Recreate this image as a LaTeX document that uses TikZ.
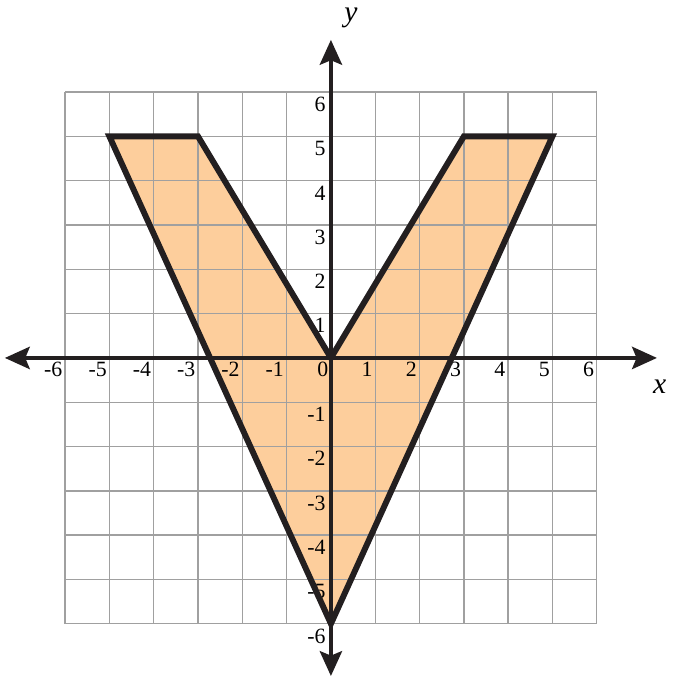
\documentclass[tikz,border=0pt]{standalone}
\usepackage{fontspec}
\setmainfont{Liberation Serif}
\usetikzlibrary{arrows.meta}
\definecolor{regionfill}{RGB}{253,206,156}
\definecolor{gridgray}{RGB}{160,160,160}
\definecolor{inkblack}{RGB}{35,31,32}
\newcommand{\ticklbl}[1]{\fontsize{14}{16}\selectfont #1}

\begin{document}
\begin{tikzpicture}[line width=0.5pt]
  \useasboundingbox (-7.47,-7.27) rectangle (7.81,8.08);
  \fill[regionfill] (-5,5) -- (-3,5) -- (0,0) -- (3,5) -- (5,5) -- (0,-6) -- cycle;
  \foreach \x in {-6,...,6} { \draw[gridgray, line width=0.9pt] (\x,-6) -- (\x,6); }
  \foreach \y in {-6,...,6} { \draw[gridgray, line width=0.9pt] (-6,\y) -- (6,\y); }
  \coordinate (xl) at (-7.36,0);
  \coordinate (xr) at (7.36,0);
  \coordinate (yb) at (0,-7.18);
  \coordinate (yt) at (0,7.18);
  \draw[inkblack, line width=2.6pt, {Stealth[length=5.6mm, width=5mm, inset=1mm]}-{Stealth[length=5.6mm, width=5mm, inset=1mm]}] (xl) -- (xr);
  \draw[inkblack, line width=2.6pt, {Stealth[length=5.6mm, width=5mm, inset=1mm]}-{Stealth[length=5.6mm, width=5mm, inset=1mm]}] (yb) -- (yt);
  \foreach \x in {-6,...,6} { \node[anchor=north east, inner sep=1.5pt] (xt\x) at (\x,-0.04) {\ticklbl{\x}}; }
  \foreach \y in {-6,...,-1,1,2,...,6} { \node[anchor=north east, inner sep=1.5pt] (yt\y) at (-0.06,\y-0.05) {\ticklbl{\y}}; }
  \node (xname) at (7.42,-0.64) {\fontsize{19}{21}\selectfont\itshape x};
  \node (yname) at (0.45,7.68) {\fontsize{19}{21}\selectfont\itshape y};
  \draw[inkblack, line width=3.8pt, line join=miter] (-5,5) -- (-3,5) -- (0,0) -- (3,5) -- (5,5) -- (0,-6) -- cycle;
\end{tikzpicture}
\end{document}
